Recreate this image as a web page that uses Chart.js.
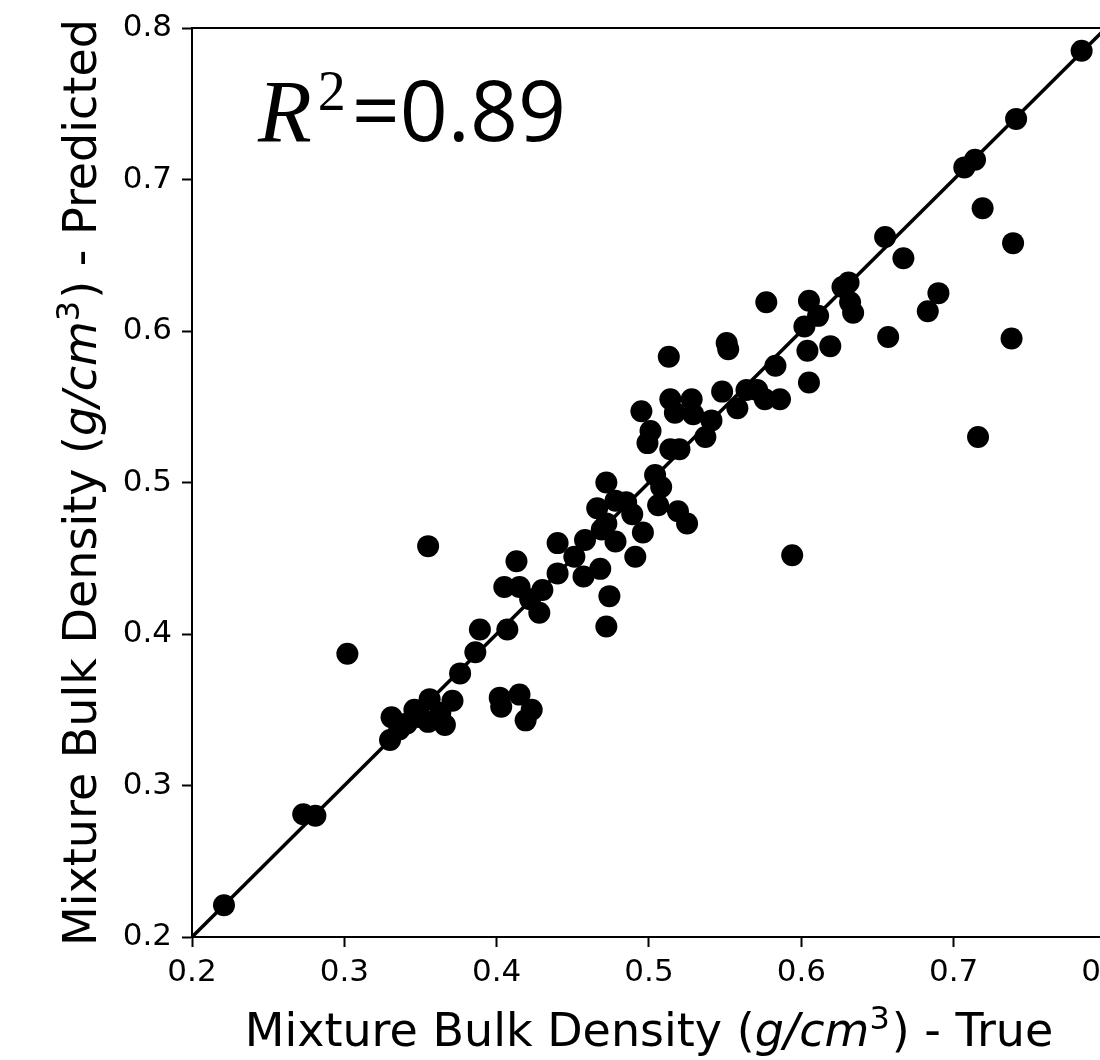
<!DOCTYPE html>
<html lang="en">
<head>
<meta charset="UTF-8">
<title>Mixture Bulk Density - True vs Predicted</title>
<script src="https://cdn.jsdelivr.net/npm/chart.js"></script>
<style>
  html, body { margin: 0; padding: 0; background: #fff; overflow: hidden; }
  #chart-container { width: 1130px; height: 1060px; }
</style>
</head>
<body>
<div id="chart-container"><canvas id="myChart" width="1130" height="1060"></canvas></div>
<script>
// measured (true) vs model output (predicted), g/cm3
var trueValues = [
  0.221, 0.273, 0.281, 0.302, 0.330, 0.331, 0.336, 0.341, 0.346, 0.350,
  0.356, 0.355, 0.363, 0.366, 0.371, 0.355, 0.376, 0.386, 0.389, 0.402,
  0.403, 0.407, 0.405, 0.415, 0.413, 0.415, 0.419, 0.423, 0.422, 0.428,
  0.430, 0.440, 0.440, 0.451, 0.457, 0.458, 0.466, 0.468, 0.469, 0.472,
  0.472, 0.474, 0.472, 0.478, 0.485, 0.489, 0.491, 0.496, 0.495, 0.501,
  0.499, 0.504, 0.508, 0.506, 0.513, 0.514, 0.514, 0.517, 0.519, 0.520,
  0.525, 0.528, 0.529, 0.537, 0.541, 0.548, 0.551, 0.552, 0.558, 0.564,
  0.571, 0.576, 0.577, 0.583, 0.586, 0.594, 0.602, 0.604, 0.605, 0.605,
  0.611, 0.619, 0.627, 0.631, 0.632, 0.634, 0.655, 0.657, 0.667, 0.683,
  0.690, 0.707, 0.714, 0.716, 0.719, 0.739, 0.738, 0.741, 0.784, 0.478
];
var predictedValues = [
  0.221, 0.281, 0.280, 0.387, 0.330, 0.345, 0.337, 0.341, 0.350, 0.345,
  0.357, 0.342, 0.348, 0.340, 0.356, 0.458, 0.374, 0.388, 0.403, 0.358,
  0.352, 0.403, 0.431, 0.431, 0.448, 0.360, 0.343, 0.350, 0.423, 0.414,
  0.429, 0.460, 0.440, 0.451, 0.438, 0.462, 0.483, 0.443, 0.469, 0.473,
  0.500, 0.425, 0.405, 0.461, 0.487, 0.479, 0.451, 0.467, 0.547, 0.534,
  0.526, 0.505, 0.497, 0.485, 0.583, 0.555, 0.522, 0.546, 0.481, 0.522,
  0.473, 0.555, 0.545, 0.530, 0.541, 0.560, 0.592, 0.588, 0.549, 0.561,
  0.561, 0.555, 0.619, 0.577, 0.555, 0.452, 0.603, 0.587, 0.620, 0.566,
  0.610, 0.590, 0.629, 0.632, 0.619, 0.612, 0.662, 0.596, 0.648, 0.613,
  0.625, 0.708, 0.713, 0.530, 0.681, 0.658, 0.595, 0.740, 0.785, 0.488
];
var identityLine = [0.2, 0.8];
var tickValues = [0.2, 0.3, 0.4, 0.5, 0.6, 0.7, 0.8];
var r2Value = '0.89';

var points = trueValues.map(function (v, i) { return { x: v, y: predictedValues[i] }; });
var linePoints = identityLine.map(function (v) { return { x: v, y: v }; });

var tickFont = { family: 'DejaVu Sans', size: 31 };

// draws a run of text pieces (font, text, raise) centred on x
function drawRich(ctx, parts, x, y, align) {
  var total = 0;
  parts.forEach(function (p) { ctx.font = p.font; p.w = ctx.measureText(p.text).width + (p.gap || 0); total += p.w; });
  var cx = align === 'left' ? x : x - total / 2;
  ctx.textBaseline = 'alphabetic';
  ctx.textAlign = 'left';
  parts.forEach(function (p) {
    ctx.font = p.font;
    ctx.fillText(p.text, cx + (p.gap || 0), y - (p.dy || 0));
    cx += p.w;
  });
}

function titleParts(tail) {
  return [
    { text: 'Mixture Bulk Density (', font: '46px "DejaVu Sans"' },
    { text: 'g/cm', font: 'italic 46px "DejaVu Sans"' },
    { text: '3', font: '32px "DejaVu Sans"', dy: 17 },
    { text: ') - ' + tail, font: '46px "DejaVu Sans"', gap: 2 }
  ];
}

var extras = {
  id: 'extras',
  afterDraw: function (chart) {
    var ctx = chart.ctx, a = chart.chartArea;
    ctx.save();
    ctx.strokeStyle = '#000';
    ctx.lineWidth = 2;
    ctx.beginPath();
    ctx.moveTo(a.left, a.top);
    ctx.lineTo(a.right, a.top);
    ctx.lineTo(a.right, a.bottom);
    ctx.stroke();

    ctx.fillStyle = '#000';
    drawRich(ctx, titleParts('True'), (a.left + a.right) / 2, 1046, 'center');

    ctx.save();
    ctx.translate(96, (a.top + a.bottom) / 2);
    ctx.rotate(-Math.PI / 2);
    drawRich(ctx, titleParts('Predicted'), 0, 0, 'center');
    ctx.restore();

    drawRich(ctx, [
      { text: 'R', font: 'italic 88px "Liberation Serif"' },
      { text: '2', font: '56px "Liberation Serif"', dy: 31, gap: 6 },
      { text: '=' + r2Value, font: '84px "Open Sans"', gap: 6 }
    ], 258, 141, 'left');
    ctx.restore();
  }
};

var ctx = document.getElementById('myChart').getContext('2d');

var config = {
  type: 'scatter',
  data: {
    datasets: [{
      label: 'Samples',
      data: points,
      pointRadius: 11,
      pointHoverRadius: 11,
      backgroundColor: '#000',
      borderWidth: 0,
      order: 0
    }, {
      label: 'y = x',
      data: linePoints,
      showLine: true,
      borderColor: '#000',
      borderWidth: 3.5,
      pointRadius: 0,
      order: 1
    }]
  },
  options: {
    responsive: false,
    animation: false,
    layout: { padding: { top: 28, right: 24, left: 0, bottom: 0 } },
    plugins: { legend: { display: false }, tooltip: { enabled: false } },
    scales: {
      x: {
        type: 'linear', min: 0.2, max: 0.8,
        afterFit: function (s) { s.height = 123; s.paddingLeft = 0; s.paddingRight = 0; },
        afterBuildTicks: function (s) { s.ticks = tickValues.map(function (v) { return { value: v }; }); },
        ticks: { callback: function (v) { return v.toFixed(1); }, font: tickFont, color: '#000', padding: 7, maxRotation: 0, autoSkip: false },
        grid: { display: true, drawOnChartArea: false, drawTicks: true, tickLength: 10, tickWidth: 2, color: '#000' },
        border: { display: true, color: '#000', width: 2 }
      },
      y: {
        type: 'linear', min: 0.2, max: 0.8,
        afterFit: function (s) { s.width = 192; s.paddingTop = 0; s.paddingBottom = 0; },
        afterBuildTicks: function (s) { s.ticks = tickValues.map(function (v) { return { value: v }; }); },
        ticks: { callback: function (v) { return v.toFixed(1); }, font: tickFont, color: '#000', padding: 10, autoSkip: false },
        grid: { display: true, drawOnChartArea: false, drawTicks: true, tickLength: 10, tickWidth: 2, color: '#000' },
        border: { display: true, color: '#000', width: 2 }
      }
    }
  },
  plugins: [extras]
};

var myChart = new Chart(ctx, config);
</script>
</body>
</html>
